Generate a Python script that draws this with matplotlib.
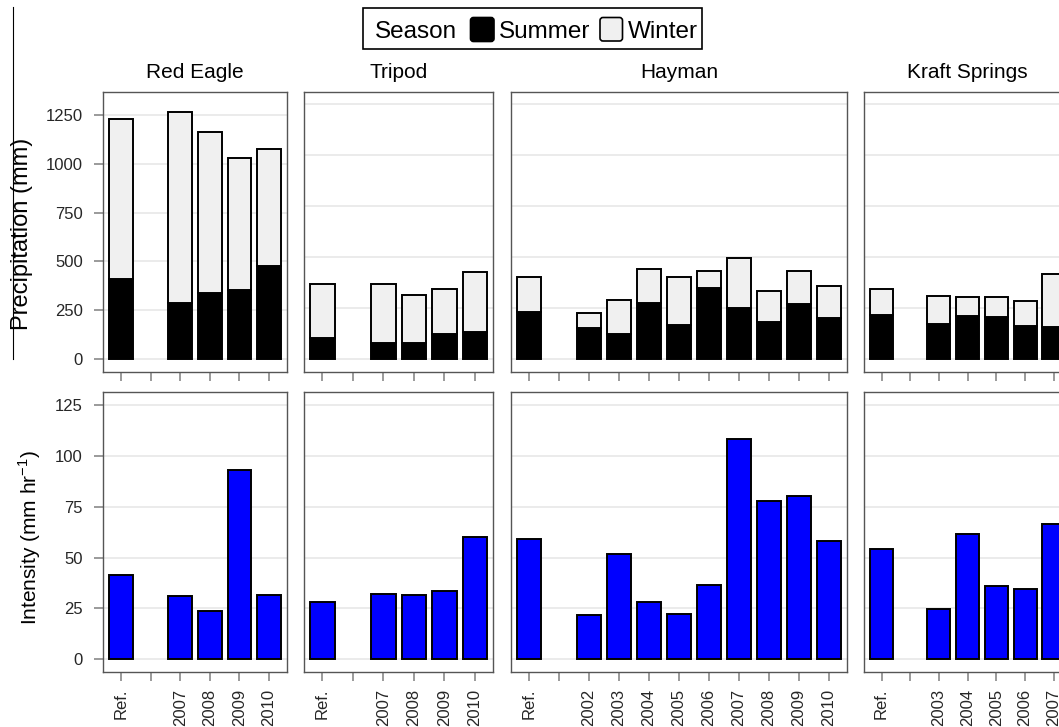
import matplotlib
matplotlib.use("Agg")
import matplotlib.pyplot as plt
from matplotlib.patches import FancyBboxPatch, Rectangle
from matplotlib.lines import Line2D
import numpy as np

plt.rcParams['font.family'] = ['Liberation Sans', 'DejaVu Sans']
plt.rcParams['mathtext.fontset'] = 'custom'
plt.rcParams['mathtext.rm'] = 'Liberation Sans'

# data (nan = empty category)
sites = ["Red Eagle", "Tripod", "Hayman", "Kraft Springs"]

red_eagle_years = ["Ref.", "", "2007", "2008", "2009", "2010"]
red_eagle_summer = [409, np.nan, 288, 338, 356, 479]
red_eagle_winter = [819, np.nan, 975, 826, 675, 595]
red_eagle_intensity = [41.2, np.nan, 31.1, 23.6, 93.1, 31.8]

tripod_years = ["Ref.", "", "2007", "2008", "2009", "2010"]
tripod_summer = [101, np.nan, 78, 78, 122, 133]
tripod_winter = [269, np.nan, 292, 236, 221, 295]
tripod_intensity = [28.2, np.nan, 32.3, 31.6, 33.4, 60.1]

hayman_years = ["Ref.", "", "2002", "2003", "2004", "2005", "2006",
                "2007", "2008", "2009", "2010"]
hayman_summer = [230, np.nan, 151, 122, 277, 169, 347, 251, 179, 272, 199]
hayman_winter = [172, np.nan, 75, 166, 164, 231, 83, 246, 153, 158, 159]
hayman_intensity = [59.2, np.nan, 21.7, 52.0, 28.2, 22.2, 36.7, 108.4,
                    77.9, 80.2, 58.0]

kraft_years = ["Ref.", "", "2003", "2004", "2005", "2006", "2007"]
kraft_summer = [217, np.nan, 173, 210, 208, 160, 158]
kraft_winter = [126, np.nan, 138, 94, 96, 122, 260]
kraft_intensity = [54.1, np.nan, 24.6, 61.8, 35.9, 34.4, 66.3]

precip_ticks = [0, 250, 500, 750, 1000, 1250]
intensity_ticks = [0, 25, 50, 75, 100, 125]

summer_color = 'black'
winter_color = '#f0f0f0'
intensity_color = '#0000ff'
grid_color = '#e6e6e6'
tick_color = '#7f7f7f'
spine_color = '#555555'
text_color = '#262626'

W, H = 1059, 727
fig = plt.figure(figsize=(W / 100, H / 100), dpi=100)
fig.patch.set_facecolor('white')

# panel boxes in pixels (left, right)
cols = [(103.3, 286.7), (304.0, 493.3), (511.0, 847.0), (864.3, 1071.0)]
top_row = (92.0, 371.7)
bottom_row = (392.3, 672.0)
precip_limits = [(-63.4, 1366), (-62.5, 1310), (-62.5, 1310), (-62.5, 1310)]


def add_panel(left, right, top, bottom):
    return fig.add_axes([left / W, 1 - bottom / H, (right - left) / W, (bottom - top) / H])


def style(ax, first):
    for s in ax.spines.values():
        s.set_color(spine_color)
        s.set_linewidth(1.0)
    ax.set_axisbelow(True)
    ax.yaxis.grid(True, color=grid_color, linewidth=1.1)
    ax.tick_params(axis='x', length=6.8, width=1.1, color=tick_color,
                   labelsize=12, labelcolor=text_color, pad=5)
    if first:
        ax.tick_params(axis='y', length=6.8, width=1.1, color=tick_color,
                       labelsize=12, labelcolor=text_color, pad=8)
    else:
        ax.tick_params(axis='y', length=0, labelleft=False)


data = [
    (red_eagle_years, red_eagle_summer, red_eagle_winter, red_eagle_intensity),
    (tripod_years, tripod_summer, tripod_winter, tripod_intensity),
    (hayman_years, hayman_summer, hayman_winter, hayman_intensity),
    (kraft_years, kraft_summer, kraft_winter, kraft_intensity),
]

for i, (site, (years, summer, winter, intensity)) in enumerate(zip(sites, data)):
    x = np.arange(1, len(years) + 1)
    summer = np.array(summer, float)
    winter = np.array(winter, float)
    intensity = np.array(intensity, float)
    ok = ~np.isnan(summer)

    ax1 = add_panel(cols[i][0], cols[i][1], *top_row)
    ax1.bar(x[ok], summer[ok], width=0.8, color=summer_color,
            edgecolor='black', linewidth=1.4, zorder=3)
    ax1.bar(x[ok], winter[ok], bottom=summer[ok], width=0.8, color=winter_color,
            edgecolor='black', linewidth=1.4, zorder=3)
    ax1.set_xlim(0.4, len(years) + 0.6)
    ax1.set_ylim(*precip_limits[i])
    ax1.set_yticks(precip_ticks)
    ax1.set_xticks(x)
    style(ax1, i == 0)
    ax1.tick_params(axis='x', labelbottom=False)
    ax1.set_title(site, fontsize=15, pad=10)

    ax2 = add_panel(cols[i][0], cols[i][1], *bottom_row)
    ok = ~np.isnan(intensity)
    ax2.bar(x[ok], intensity[ok], width=0.8, color=intensity_color,
            edgecolor='black', linewidth=1.4, zorder=3)
    ax2.set_xlim(0.4, len(years) + 0.6)
    ax2.set_ylim(-6.25, 131.25)
    ax2.set_yticks(intensity_ticks)
    ax2.set_xticks(x, labels=years, rotation=90, va='top', ha='center')
    style(ax2, i == 0)


def inch(px_x, px_y):
    return px_x / 100, (H - px_y) / 100


# y-axis labels
fig.text(*inch(22.5, 234.2), 'Precipitation (mm)', rotation=90,
         ha='center', va='center', fontsize=17)
fig.text(*inch(29.6, 537.5), r'Intensity (mm hr$^{\mathregular{-1}}$)',
         rotation=90, ha='center', va='center', fontsize=15,
         transform=fig.dpi_scale_trans)
fig.texts[0].set_transform(fig.dpi_scale_trans)

# legend drawn by hand: Season [■] Summer [□] Winter
tr = fig.dpi_scale_trans
x0, y0 = inch(363.3, 49.3)
fig.add_artist(Rectangle((x0, y0), 339 / 100, 41 / 100, transform=tr,
                         fill=False, edgecolor='black', linewidth=1.2))
fig.text(*inch(375, 37.5), 'Season', fontsize=17.5, va='baseline', transform=tr)
kx, ky = inch(470.5, 41.5)
fig.add_artist(FancyBboxPatch((kx, ky), 0.235, 0.24, transform=tr,
                              boxstyle='round,pad=0,rounding_size=0.03',
                              facecolor=summer_color, edgecolor='black', linewidth=1.2))
fig.text(*inch(499, 37.5), 'Summer', fontsize=17.5, va='baseline', transform=tr)
kx, ky = inch(600, 41.0)
fig.add_artist(FancyBboxPatch((kx, ky), 0.225, 0.235, transform=tr,
                              boxstyle='round,pad=0,rounding_size=0.03',
                              facecolor=winter_color, edgecolor='black', linewidth=1.2))
fig.text(*inch(628.3, 37.5), 'Winter', fontsize=17.5, va='baseline', transform=tr)

# stray vertical rule at the left edge
fig.add_artist(Line2D([0.127, 0.127], [(H - 6.7) / 100, (H - 359.3) / 100],
                      transform=tr, color='black', linewidth=0.8))

fig.savefig('out.png', dpi=100, facecolor='white')
